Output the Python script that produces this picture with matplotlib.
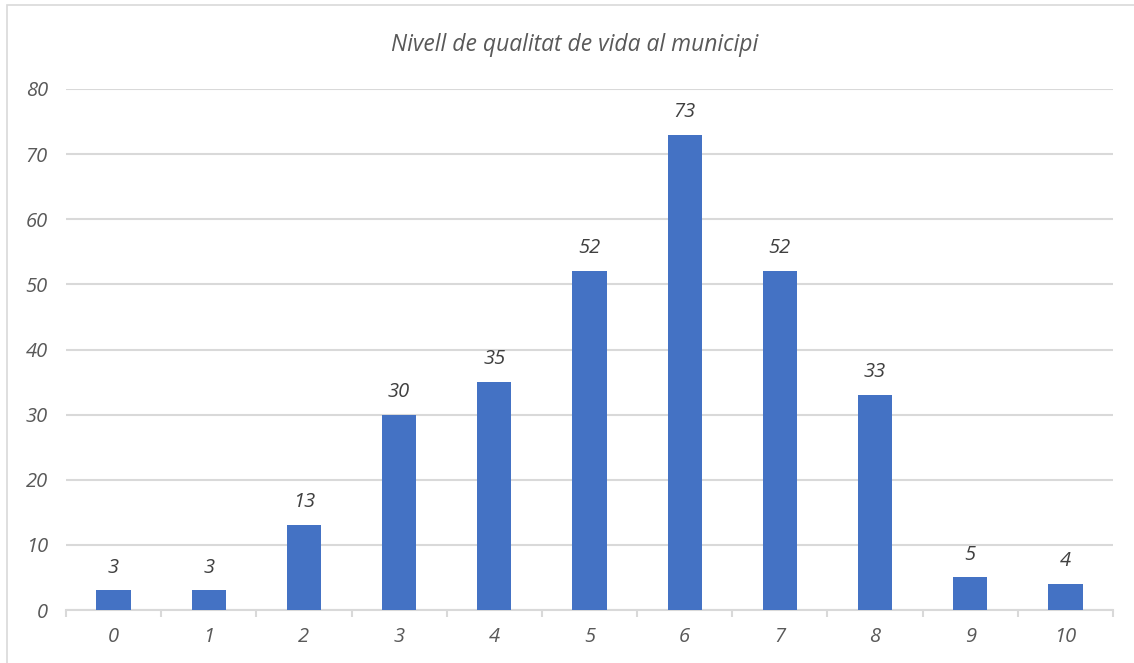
import matplotlib.pyplot as plt
from matplotlib.patches import Rectangle

# data
categories = ["0", "1", "2", "3", "4", "5", "6", "7", "8", "9", "10"]
values = [3, 3, 13, 30, 35, 52, 73, 52, 33, 5, 4]
title = "Nivell de qualitat de vida al municipi"

W, H = 1134, 663
txt_color = "#595959"
grid_color = "#d9d9d9"
bar_color = "#4472C4"

plt.rcParams["font.family"] = ["Open Sans", "DejaVu Sans"]

fig = plt.figure(figsize=(W / 100, H / 100), dpi=100)
ax = fig.add_axes([66 / W, 1 - 610 / H, (1113 - 66) / W, (610 - 89) / H])

x = list(range(len(categories)))
bars = ax.bar(x, values, width=0.36, color=bar_color, zorder=3)

for xi, v in zip(x, values):
    ax.annotate(f"{v:.0f}", (xi, v), xytext=(0, 16.5), textcoords="offset points",
                ha="center", va="center", fontsize=14.5, style="italic", color="#404040")

ax.set_xlim(-0.5, len(categories) - 0.5)
ax.set_ylim(0, 80)
ax.set_yticks(range(0, 81, 10))
ax.set_xticks(x)
ax.set_xticklabels(categories)
ax.set_xticks([i - 0.5 for i in range(len(categories) + 1)], minor=True)

ax.grid(axis="y", color=grid_color, linewidth=1.5, zorder=0)
for s in ["top", "right", "left"]:
    ax.spines[s].set_visible(False)
ax.spines["bottom"].set_color(grid_color)
ax.spines["bottom"].set_linewidth(1.5)

ax.tick_params(axis="y", length=0, pad=13, labelsize=14.5, labelcolor=txt_color)
ax.tick_params(axis="x", which="major", length=0, pad=12, labelsize=14.5, labelcolor=txt_color)
ax.tick_params(axis="x", which="minor", length=5, width=1.5, color=grid_color)
for lab in ax.get_xticklabels() + ax.get_yticklabels():
    lab.set_style("italic")

fig.text(575 / W, 1 - 45 / H, title, ha="center", va="center", fontsize=16.5,
         style="italic", color=txt_color)

fig.patches.append(Rectangle((7 / W, -0.05), 1.1, 1 - 5 / H + 0.05, transform=fig.transFigure,
                             fill=False, edgecolor=grid_color, linewidth=1.2))

fig.savefig("out.png", dpi=100)
